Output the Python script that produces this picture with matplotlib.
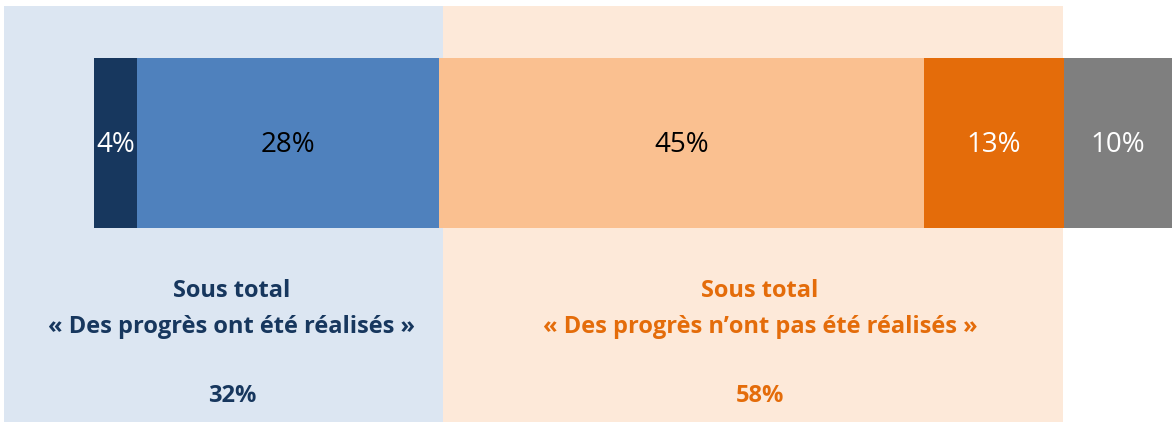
import matplotlib
matplotlib.use("Agg")
import matplotlib.pyplot as plt
from matplotlib.patches import Rectangle
import numpy as np

# Data
segment_values = [4, 28, 45, 13, 10]
segment_labels = ["4%", "28%", "45%", "13%", "10%"]
segment_colors = ["#17375E", "#4F81BD", "#FAC090", "#E46C0A", "#7F7F7F"]
label_colors = ["white", "black", "black", "white", "white"]

group_line1 = ["Sous total", "Sous total"]
group_line2 = ["« Des progrès ont été réalisés »", "« Des progrès n’ont pas été réalisés »"]
group_totals = ["32%", "58%"]
group_text_colors = ["#17375E", "#E46C0A"]
group_bg_colors = ["#DCE6F2", "#FDE9D9"]

W, H = 1172, 427
fig = plt.figure(figsize=(W / 100, H / 100), dpi=100)
fig.patch.set_facecolor("white")

ax = fig.add_axes([0, 0, 1, 1])
ax.set_facecolor("none")
px_per_unit = (W - 94) / 100.0
ax.set_xlim(-94 / px_per_unit, 100)
ax.set_ylim(H, 0)
ax.axis("off")

# background group panels (figure pixel coords)
bg_boxes = [(4, 443), (443, 1063)]
for (x0, x1), c in zip(bg_boxes, group_bg_colors):
    ax.add_patch(Rectangle((x0 / W, (H - 423) / H), (x1 - x0) / W, (423 - 7) / H,
                           transform=fig.transFigure, facecolor=c, edgecolor="none", zorder=0))

lefts = np.concatenate([[0], np.cumsum(segment_values)[:-1]])
bar_center, bar_h = 144, 170
ax.barh([bar_center] * len(segment_values), segment_values, left=lefts, height=bar_h,
        color=segment_colors, edgecolor="none", zorder=2)

font = "Open Sans"
for l, v, lab, tc in zip(lefts, segment_values, segment_labels, label_colors):
    ax.text(l + v / 2, bar_center + 1, lab, ha="center", va="center", color=tc,
            fontsize=20, family=font, zorder=3)

group_centers_px = [232, 760]
for cx, t1, t2, total, tc in zip(group_centers_px, group_line1, group_line2,
                                 group_totals, group_text_colors):
    for ypx, txt in [(291, t1), (327, t2), (396, total)]:
        fig.text(cx / W, 1 - ypx / H, txt, ha="center", va="center", color=tc,
                 fontsize=17, fontweight="bold", family=font)

fig.savefig("out.png", dpi=100)
